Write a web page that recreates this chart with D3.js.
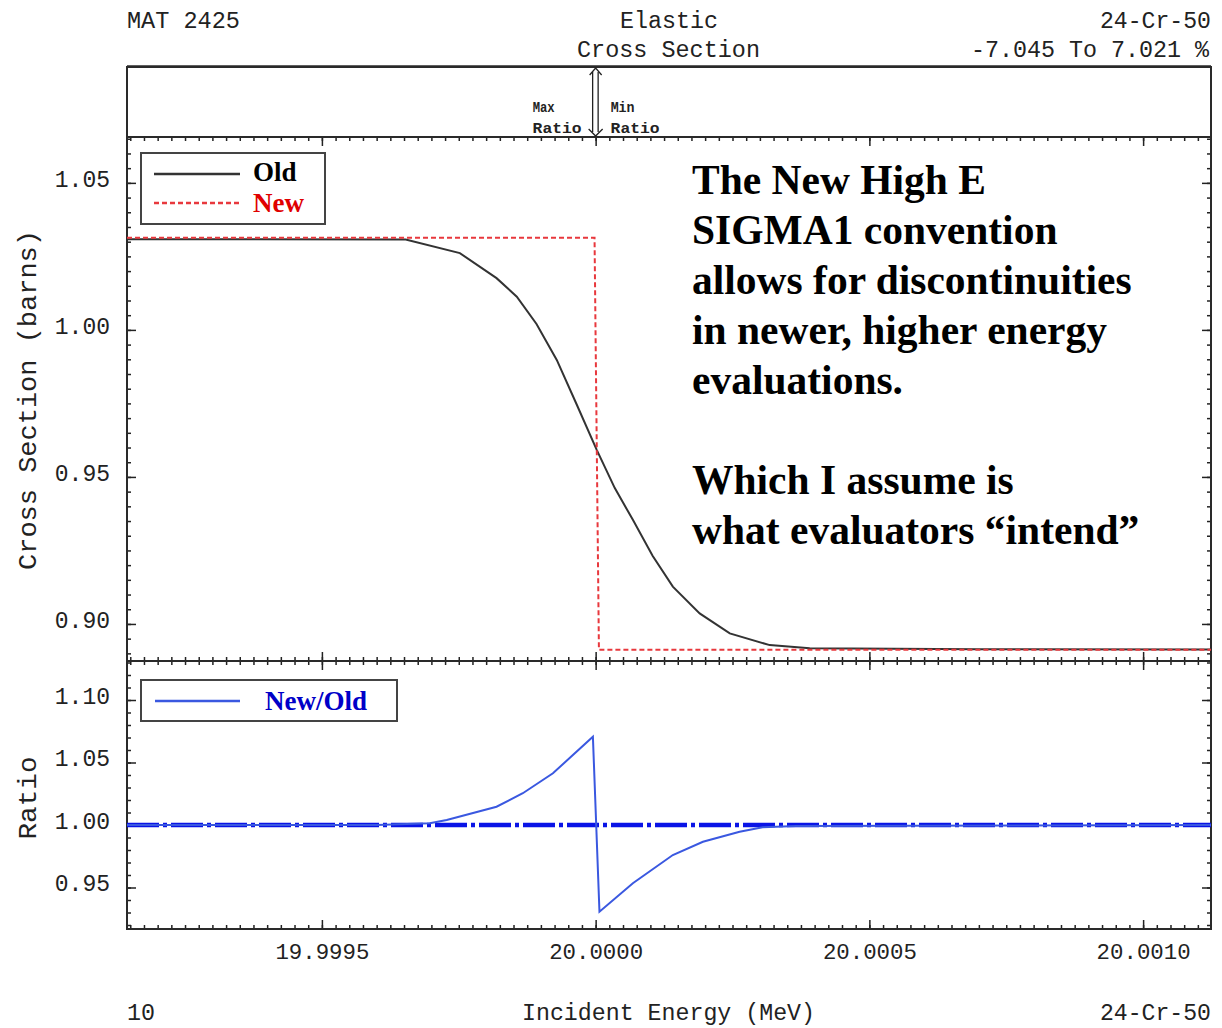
<!DOCTYPE html>
<html>
<head>
<meta charset="utf-8">
<script src="https://cdn.jsdelivr.net/npm/d3@7"></script>
<style>
  body { margin: 0; background: #fff; }
  svg { display: block; }
  .mono { font-family: "Liberation Mono", "DejaVu Sans Mono", monospace; fill: #222; }
  .serif { font-family: "Liberation Serif", "Times New Roman", serif; font-weight: bold; }
</style>
</head>
<body>
<svg width="1222" height="1028"></svg>
<script>
// values
let oldEnergy = [19.999144, 19.999369, 19.999653, 19.999752, 19.999819, 19.999856, 19.999892,
  19.999929, 19.999965, 20.000002, 20.000035, 20.000068, 20.000104, 20.000141, 20.000190,
  20.000245, 20.000318, 20.000391, 20.000701, 20.001124]
let oldSigma = [1.0308, 1.0308, 1.0307, 1.0261, 1.0176, 1.0113, 1.0020,
  0.9898, 0.9748, 0.9592, 0.9462, 0.9354, 0.9232, 0.9127, 0.9036,
  0.8968, 0.8928, 0.8917, 0.8914, 0.8913]

let newEnergy = [19.999144, 19.999998, 20.000006, 20.001124]
let newSigma = [1.0313, 1.0313, 0.8912, 0.8912]

let ratioEnergy = [19.999144, 19.999600, 19.999697, 19.999728, 19.999819, 19.999867, 19.999922,
  19.999995, 20.000007, 20.000068, 20.000141, 20.000196, 20.000263, 20.000305, 20.000366, 20.001124]
let ratioValue = [1.0000, 1.0000, 1.0014, 1.0040, 1.0146, 1.0254, 1.0414,
  1.0706, 0.9306, 0.9534, 0.9760, 0.9866, 0.9946, 0.9982, 0.9992, 1.0000]

let xTicks = [19.9995, 20.0000, 20.0005, 20.0010]
let sigmaTicks = [0.90, 0.95, 1.00, 1.05]
let ratioTicks = [0.95, 1.00, 1.05, 1.10]
let maxRatioAt = 20.0000

let legendTop = ['Old', 'New']
let legendTopColors = ['#000', '#e00000']
let noteLines = ['The New High E', 'SIGMA1 convention', 'allows for discontinuities',
  'in newer, higher energy', 'evaluations.', '', 'Which I assume is', 'what evaluators \u201cintend\u201d']

let svg = d3.select('svg')
svg.append('rect').attr('width', 1222).attr('height', 1028).attr('fill', '#fff')

let left = 127, right = 1211
let stripTop = 67, mainTop = 137, mainBottom = 661, ratioBottom = 929

let x = d3.scaleLinear().domain([19.999144, 20.001124]).range([left, right])
let ySigma = d3.scaleLinear().domain([0.8874, 1.0656]).range([mainBottom, mainTop])
let yRatio = d3.scaleLinear().domain([0.9168, 1.1312]).range([ratioBottom, mainBottom])

let xMinor = d3.range(-34, 45).map(i => 20 + i * 0.000025)
let sigmaMinor = d3.range(178, 214).map(i => i * 0.005)
let ratioMinor = d3.range(92, 114).map(i => i * 0.01)

// clip paths for the two panels
let defs = svg.append('defs')
defs.append('clipPath').attr('id', 'clipMain').append('rect')
  .attr('x', left).attr('y', mainTop).attr('width', right - left).attr('height', mainBottom - mainTop)
defs.append('clipPath').attr('id', 'clipRatio').append('rect')
  .attr('x', left).attr('y', mainBottom).attr('width', right - left).attr('height', ratioBottom - mainBottom)

function drawTicks(axis, values, size, tx, ty) {
  let g = svg.append('g')
    .attr('transform', `translate(${tx},${ty})`)
    .call(axis.tickValues(values).tickSize(-size).tickSizeOuter(0).tickFormat(''))
  g.select('.domain').remove()
  g.selectAll('line').attr('stroke', '#222').attr('stroke-width', 1.5)
  return g
}

// x ticks on every horizontal edge, pointing into the panels
drawTicks(d3.axisTop(x), xMinor, 4, 0, mainTop)
drawTicks(d3.axisTop(x), xTicks, 9, 0, mainTop)
drawTicks(d3.axisBottom(x), xMinor, 4, 0, mainBottom)
drawTicks(d3.axisBottom(x), xTicks, 9, 0, mainBottom)
drawTicks(d3.axisTop(x), xMinor, 4, 0, mainBottom)
drawTicks(d3.axisTop(x), xTicks, 9, 0, mainBottom)
drawTicks(d3.axisBottom(x), xMinor, 4, 0, ratioBottom)
drawTicks(d3.axisBottom(x), xTicks, 9, 0, ratioBottom)

// y ticks, left and right
drawTicks(d3.axisLeft(ySigma), sigmaMinor, 4, left, 0)
drawTicks(d3.axisLeft(ySigma), sigmaTicks, 9, left, 0)
drawTicks(d3.axisRight(ySigma), sigmaMinor, 4, right, 0)
drawTicks(d3.axisRight(ySigma), sigmaTicks, 9, right, 0)
drawTicks(d3.axisLeft(yRatio), ratioMinor, 4, left, 0)
drawTicks(d3.axisLeft(yRatio), ratioTicks, 9, left, 0)
drawTicks(d3.axisRight(yRatio), ratioMinor, 4, right, 0)
drawTicks(d3.axisRight(yRatio), ratioTicks, 9, right, 0)

// tick labels
let xLabels = svg.append('g')
  .attr('transform', `translate(0,${ratioBottom})`)
  .call(d3.axisBottom(x).tickValues(xTicks).tickSize(0).tickPadding(14).tickFormat(d3.format('.4f')))
xLabels.select('.domain').remove()
xLabels.selectAll('text')
  .attr('class', 'mono').attr('font-size', 22.5)
  .attr('textLength', 94).attr('lengthAdjust', 'spacingAndGlyphs')

function yLabels(scale, values) {
  let g = svg.append('g')
    .attr('transform', `translate(${left},0)`)
    .call(d3.axisLeft(scale).tickValues(values).tickSize(0).tickPadding(17).tickFormat(d3.format('.2f')))
  g.select('.domain').remove()
  g.selectAll('text').attr('class', 'mono').attr('font-size', 23).attr('dy', '0.15em')
}
yLabels(ySigma, sigmaTicks)
yLabels(yRatio, ratioTicks)

// frames
let frame = svg.append('g').attr('fill', 'none').attr('stroke', '#2a2a2a').attr('stroke-width', 2)
frame.append('rect').attr('x', left).attr('y', stripTop).attr('width', right - left).attr('height', mainTop - stripTop)
frame.append('rect').attr('x', left).attr('y', mainTop).attr('width', right - left).attr('height', mainBottom - mainTop)
frame.append('rect').attr('x', left).attr('y', mainBottom).attr('width', right - left).attr('height', ratioBottom - mainBottom)
frame.append('line').attr('x1', left).attr('x2', right).attr('y1', stripTop - 1).attr('y2', stripTop - 1).attr('stroke-width', 1.5)

// cross section curves
let sigmaLine = d3.line().x(d => x(d[0])).y(d => ySigma(d[1]))
let main = svg.append('g').attr('clip-path', 'url(#clipMain)')
main.append('path')
  .datum(d3.zip(oldEnergy, oldSigma))
  .attr('d', sigmaLine)
  .attr('fill', 'none').attr('stroke', '#333').attr('stroke-width', 2)
main.append('path')
  .datum(d3.zip(newEnergy, newSigma))
  .attr('d', sigmaLine)
  .attr('fill', 'none').attr('stroke', '#e8383d').attr('stroke-width', 2).attr('stroke-dasharray', '5,3')

// ratio panel
let ratioLine = d3.line().x(d => x(d[0])).y(d => yRatio(d[1]))
let ratio = svg.append('g').attr('clip-path', 'url(#clipRatio)')
ratio.append('line')
  .attr('x1', left).attr('x2', right).attr('y1', yRatio(1)).attr('y2', yRatio(1))
  .attr('stroke', '#0a14e6').attr('stroke-width', 4.5).attr('stroke-dasharray', '32,4,4,4')
ratio.append('path')
  .datum(d3.zip(ratioEnergy, ratioValue))
  .attr('d', ratioLine)
  .attr('fill', 'none').attr('stroke', '#3a58e0').attr('stroke-width', 2)

// max / min ratio arrow in the top strip
let ax = x(maxRatioAt)
let arrow = svg.append('g').attr('fill', 'none').attr('stroke', '#222').attr('stroke-width', 1.3)
arrow.append('path').attr('d', `M${ax - 3},${stripTop + 5} V${mainTop - 5} M${ax + 2.5},${stripTop + 5} V${mainTop - 5}`)
arrow.append('path').attr('d', `M${ax - 6},${stripTop + 8} L${ax},${stripTop + 1} L${ax + 6},${stripTop + 8}`)
arrow.append('path').attr('d', `M${ax - 7},${mainTop - 8} L${ax},${mainTop - 1} L${ax + 7},${mainTop - 8}`)

let tag = svg.append('g').attr('class', 'mono').attr('font-size', 14).attr('font-weight', 'bold')
tag.append('text').attr('x', ax - 63).attr('y', 112).attr('textLength', 22).attr('lengthAdjust', 'spacingAndGlyphs').text('Max')
tag.append('text').attr('x', ax - 63).attr('y', 133).attr('textLength', 49).attr('lengthAdjust', 'spacingAndGlyphs').text('Ratio')
tag.append('text').attr('x', ax + 15).attr('y', 112).attr('textLength', 24).attr('lengthAdjust', 'spacingAndGlyphs').text('Min')
tag.append('text').attr('x', ax + 15).attr('y', 133).attr('textLength', 49).attr('lengthAdjust', 'spacingAndGlyphs').text('Ratio')

// header and footer texts
function monoText(str, tx, ty, width, anchor) {
  return svg.append('text')
    .attr('class', 'mono').attr('font-size', 23.5)
    .attr('x', tx).attr('y', ty)
    .attr('text-anchor', anchor || 'start')
    .attr('textLength', width).attr('lengthAdjust', 'spacingAndGlyphs')
    .text(str)
}
monoText('MAT 2425', 127, 28, 113)
monoText('Elastic', 620, 28, 98)
monoText('Cross Section', 577, 57, 183)
monoText('24-Cr-50', 1100, 28, 111)
monoText('-7.045 To 7.021 %', 971, 57, 238)
monoText('10', 127, 1020, 28)
monoText('Incident Energy (MeV)', 522, 1020, 293)
monoText('24-Cr-50', 1100, 1020, 111)

svg.append('text')
  .attr('class', 'mono').attr('font-size', 26)
  .attr('transform', 'translate(36,400) rotate(-90)')
  .attr('text-anchor', 'middle')
  .attr('textLength', 340).attr('lengthAdjust', 'spacingAndGlyphs')
  .text('Cross Section (barns)')
svg.append('text')
  .attr('class', 'mono').attr('font-size', 26)
  .attr('transform', 'translate(36,798) rotate(-90)')
  .attr('text-anchor', 'middle')
  .attr('textLength', 83).attr('lengthAdjust', 'spacingAndGlyphs')
  .text('Ratio')

// legend, cross section panel
let leg = svg.append('g')
leg.append('rect').attr('x', 141).attr('y', 153).attr('width', 184).attr('height', 71)
  .attr('fill', '#fff').attr('stroke', '#444').attr('stroke-width', 2)
leg.append('line').attr('x1', 154).attr('x2', 240).attr('y1', 174).attr('y2', 174)
  .attr('stroke', '#333').attr('stroke-width', 2.5)
leg.append('line').attr('x1', 154).attr('x2', 240).attr('y1', 203).attr('y2', 203)
  .attr('stroke', '#e8383d').attr('stroke-width', 2.5).attr('stroke-dasharray', '5,3')
leg.selectAll('text.entry')
  .data(legendTop)
  .enter()
  .append('text')
  .attr('class', 'serif entry')
  .attr('x', 253)
  .attr('y', (d, i) => 181 + i * 31)
  .attr('font-size', 27)
  .attr('fill', (d, i) => legendTopColors[i])
  .text(d => d)

// legend, ratio panel
let leg2 = svg.append('g')
leg2.append('rect').attr('x', 141).attr('y', 680).attr('width', 256).attr('height', 41)
  .attr('fill', '#fff').attr('stroke', '#444').attr('stroke-width', 2)
leg2.append('line').attr('x1', 155).attr('x2', 240).attr('y1', 701).attr('y2', 701)
  .attr('stroke', '#3a58e0').attr('stroke-width', 2.5)
leg2.append('text').attr('class', 'serif').attr('x', 265).attr('y', 710)
  .attr('font-size', 27).attr('fill', '#0000c8').text('New/Old')

// annotation
svg.append('g')
  .selectAll('text')
  .data(noteLines)
  .enter()
  .append('text')
  .attr('class', 'serif')
  .attr('x', 692)
  .attr('y', (d, i) => 194 + i * 50)
  .attr('font-size', 41.5)
  .attr('fill', '#000')
  .text(d => d)
</script>
</body>
</html>
